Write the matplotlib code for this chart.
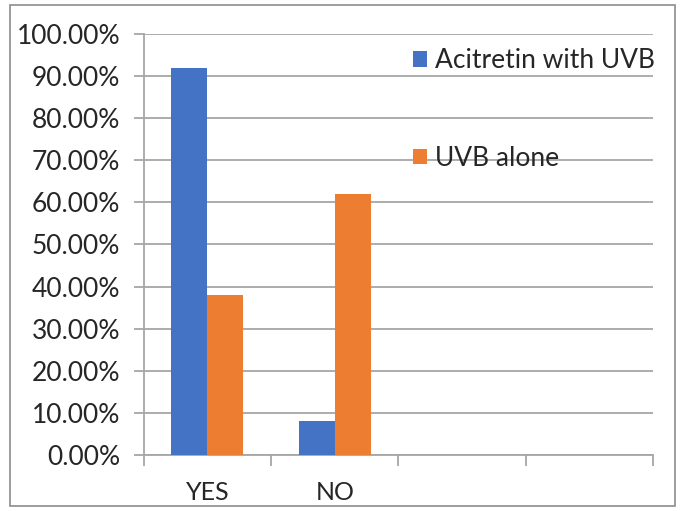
import numpy as np
import matplotlib
matplotlib.use('Agg')
import matplotlib.pyplot as plt
from matplotlib.patches import Rectangle
from matplotlib.ticker import FuncFormatter

categories = ['YES', 'NO', '', '']
acitretin_uvb = [92, 8, None, None]
uvb_alone = [38, 62, None, None]
series_names = ['Acitretin with UVB', 'UVB alone']
blue = '#4472C4'
orange = '#ED7D31'
grid_col = '#a6a6a6'
txt_col = '#262626'

plt.rcParams['font.family'] = ['Lato', 'DejaVu Sans']

fig = plt.figure(figsize=(6.85, 5.11), dpi=100)
ax = fig.add_axes([0.210, 0.1096, 0.743, 0.824])

x = np.arange(len(categories))
w = 0.283
vals1 = [v if v is not None else 0 for v in acitretin_uvb]
vals2 = [v if v is not None else 0 for v in uvb_alone]
ax.bar(x - w/2, vals1, w, color=blue, label=series_names[0], zorder=3)
ax.bar(x + w/2, vals2, w, color=orange, label=series_names[1], zorder=3)

ax.set_xlim(-0.5, len(categories) - 0.5)
ax.set_ylim(0, 100)
ax.set_yticks(np.arange(0, 101, 10))
ax.yaxis.set_major_formatter(FuncFormatter(lambda v, p: '%.2f%%' % v))
ax.yaxis.grid(True, color=grid_col, linewidth=1.3, zorder=0)
ax.set_axisbelow(True)

# category labels between boundary ticks
ax.set_xticks(np.arange(-0.5, len(categories), 1))
ax.set_xticklabels([])
ax.set_xticks(x, minor=True)
ax.set_xticklabels(categories, minor=True)
ax.tick_params(axis='x', which='minor', length=0, labelsize=18, pad=19, colors=txt_col)
ax.tick_params(axis='x', which='major', length=8, width=1.3, color=grid_col)
ax.tick_params(axis='y', length=7, width=1.3, color=grid_col, labelsize=19, labelcolor=txt_col, pad=10)

for s in ['top', 'right']:
    ax.spines[s].set_visible(False)
for s in ['left', 'bottom']:
    ax.spines[s].set_color(grid_col)
    ax.spines[s].set_linewidth(1.3)

ax.legend(loc='upper left', bbox_to_anchor=(0.568, 0.952), bbox_transform=fig.transFigure,
          frameon=False, fontsize=19, handlelength=0.55, handleheight=0.55,
          handletextpad=0.3, labelspacing=2.75, labelcolor=txt_col)

# outer frame of the chart
fig.patches.append(Rectangle((0.014, 0.01), 0.972, 0.98, transform=fig.transFigure,
                             fill=False, edgecolor='#8c8c8c', linewidth=1.2))

fig.savefig('out.png', dpi=100)
